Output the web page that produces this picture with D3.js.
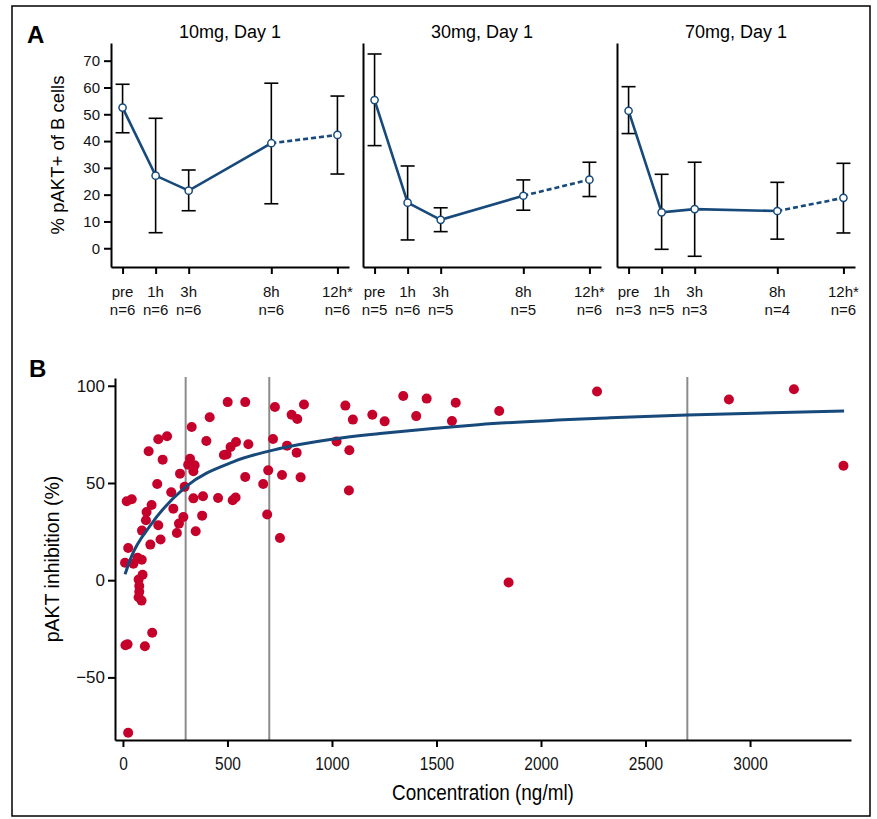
<!DOCTYPE html>
<html>
<head>
<meta charset="utf-8">
<script src="https://cdn.jsdelivr.net/npm/d3@7"></script>
<style>
  body { margin: 0; background: #fff; }
  svg { display: block; font-family: 'Liberation Sans', Arial, sans-serif; }
  .axis path, .axis line { stroke: #000; stroke-width: 2; }
  .axis text { fill: #111; font-family: 'Liberation Sans', Arial, sans-serif; }
</style>
</head>
<body>
<div class="chart"></div>
<script>
const svgWidth = 877;
const svgHeight = 819;

// panel A data
const doseTitles = ['10mg, Day 1', '30mg, Day 1', '70mg, Day 1'];
const timeLabels = ['pre', '1h', '3h', '8h', '12h*'];
const timeHours = [-1, 1, 3, 8, 12];
const nCounts = [
  [6, 6, 6, 6, 6],
  [5, 6, 5, 5, 6],
  [3, 5, 3, 4, 6]
];
const meanValues = [
  [52.5, 27.1, 21.5, 39.2, 42.3],
  [55.3, 17.0, 10.6, 19.6, 25.6],
  [51.3, 13.4, 14.6, 13.9, 18.8]
];
const upperValues = [
  [61.2, 48.5, 29.2, 61.6, 56.8],
  [72.5, 30.7, 15.1, 25.5, 32.1],
  [60.3, 27.6, 32.1, 24.6, 31.7]
];
const lowerValues = [
  [43.1, 5.8, 14.0, 16.6, 27.7],
  [38.3, 3.1, 6.2, 14.2, 19.3],
  [42.8, -0.4, -3.0, 3.4, 5.7]
];
const yTicksA = [0, 10, 20, 30, 40, 50, 60, 70];

// panel B data (concentration ng/ml, inhibition %)
const concentration = [
  2268, 2899, 3210, 3447, 1845,
  866, 807, 834, 1064, 1100, 1193, 1252, 1341, 1453, 1403, 1592, 1574, 1800,
  785, 831, 1022, 1083, 761, 850, 1081, 751,
  501, 585, 727, 415, 329, 399, 541, 515, 496, 483, 600, 718,
  321, 312, 343, 337, 273, 295, 695, 671, 585, 337, 383, 455, 525, 539,
  690, 379, 289, 348,
  169, 211, 123, 190, 164, 231, 18, 42, 137, 113, 110, 241, 169, 268, 91, 258,
  180, 131, 25,
  10, 50, 70, 90,
  94, 75, 78, 78, 75, 89,
  140, 12, 22, 105, 25
];
const inhibition = [
  97.1, 92.9, 98.2, 58.9, -1.2,
  90.4, 85.1, 82.9, 89.8, 82.6, 85.1, 81.7, 94.7, 93.4, 84.4, 91.3, 81.9, 87.0,
  69.2, 65.6, 71.4, 66.8, 54.1, 52.9, 46.1, 21.7,
  91.6, 91.6, 89.1, 83.8, 78.8, 71.6, 71.1, 68.5, 64.7, 64.4, 69.9, 72.6,
  62.5, 59.4, 59.1, 56.0, 54.8, 48.0, 56.5, 49.5, 53.1, 42.1, 43.2, 42.3, 41.1, 42.5,
  33.8, 33.2, 32.5, 25.2,
  72.5, 74.0, 66.3, 62.0, 49.5, 45.2, 40.6, 41.6, 38.7, 35.1, 30.8, 36.8, 28.3, 29.1, 25.5, 24.3,
  20.9, 18.3, 16.6,
  9.0, 8.5, 11.5, 10.5,
  2.8, 0.3, -3.0, -6.0, -8.8, -10.5,
  -27.0, -33.5, -33.0, -34.0, -78.5
];
const fitConc = [10, 40, 130, 300, 530, 750, 1000, 1230, 1700, 2330, 2700, 3450];
const fitInhib = [3, 12, 28, 48, 61, 67.7, 72.5, 75.4, 80, 83.5, 85, 87];
const refConc = [300, 700, 2700];
const xTicksB = [0, 500, 1000, 1500, 2000, 2500, 3000];
const yTicksB = [-50, 0, 50, 100];

const blue = '#17497a';
const red = '#c5002b';
// horizontal squeeze used for the condensed labels of panel B
const narrow = 0.86;

const svg = d3
  .select('.chart')
  .append('svg')
  .attr('width', svgWidth)
  .attr('height', svgHeight);

// outer frame
svg.append('rect')
  .attr('x', 12)
  .attr('y', 6)
  .attr('width', 858)
  .attr('height', 810)
  .attr('fill', 'none')
  .attr('stroke', '#000')
  .attr('stroke-width', 1.5);

// ---------- panel A ----------
svg.append('text')
  .attr('x', 27)
  .attr('y', 43)
  .attr('font-size', 24)
  .attr('font-weight', 'bold')
  .text('A');

const panelLeft = [111, 363, 617];
const panelWidth = 238;

const xA = d3.scaleLinear()
  .domain([-1.7, 12.7])
  .range([0, panelWidth]);

const yA = d3.scaleLinear()
  .domain([-7, 76.6])
  .range([267, 43]);

const line = d3.line()
  .x(d => xA(d[0]))
  .y(d => yA(d[1]));

doseTitles.forEach(function(title, i) {
  const g = svg.append('g')
    .attr('transform', `translate(${panelLeft[i]}, 0)`);

  g.append('text')
    .attr('x', panelWidth / 2)
    .attr('y', 38)
    .attr('text-anchor', 'middle')
    .attr('font-size', 18)
    .text(title);

  // y axis
  const yAxis = d3.axisLeft(yA).tickValues(i === 0 ? yTicksA : []).tickSize(7).tickSizeOuter(0);
  const yG = g.append('g').classed('axis', true).call(yAxis);
  yG.selectAll('text').style('font-size', '15px').attr('dx', '-1');

  // x axis
  const xAxis = d3.axisBottom(xA)
    .tickValues(timeHours)
    .tickSize(7)
    .tickSizeOuter(0)
    .tickFormat('');
  g.append('g')
    .classed('axis', true)
    .attr('transform', 'translate(0, 267)')
    .call(xAxis);

  // two-line tick labels
  const labels = g.append('g');
  timeHours.forEach(function(h, j) {
    const t = labels.append('text')
      .attr('x', xA(h))
      .attr('text-anchor', 'middle')
      .attr('font-size', 15)
      .attr('fill', '#111');
    t.append('tspan').attr('x', xA(h)).attr('y', 297).text(timeLabels[j]);
    t.append('tspan').attr('x', xA(h)).attr('y', 315).text('n=' + nCounts[i][j]);
  });

  // error bars
  const bars = g.append('g')
    .attr('stroke', '#000')
    .attr('stroke-width', 1.6);
  timeHours.forEach(function(h, j) {
    const x = xA(h);
    bars.append('line')
      .attr('x1', x).attr('x2', x)
      .attr('y1', yA(lowerValues[i][j])).attr('y2', yA(upperValues[i][j]));
    bars.append('line')
      .attr('x1', x - 7).attr('x2', x + 7)
      .attr('y1', yA(lowerValues[i][j])).attr('y2', yA(lowerValues[i][j]));
    bars.append('line')
      .attr('x1', x - 7).attr('x2', x + 7)
      .attr('y1', yA(upperValues[i][j])).attr('y2', yA(upperValues[i][j]));
  });

  const pts = timeHours.map((h, j) => [h, meanValues[i][j]]);

  g.append('path')
    .attr('d', line(pts.slice(0, 4)))
    .attr('fill', 'none')
    .attr('stroke', blue)
    .attr('stroke-width', 2.6);

  g.append('path')
    .attr('d', line(pts.slice(3)))
    .attr('fill', 'none')
    .attr('stroke', blue)
    .attr('stroke-width', 2.6)
    .attr('stroke-dasharray', '5,3');

  g.selectAll('circle')
    .data(pts)
    .enter()
    .append('circle')
    .attr('cx', d => xA(d[0]))
    .attr('cy', d => yA(d[1]))
    .attr('r', 3.6)
    .attr('fill', '#fff')
    .attr('stroke', blue)
    .attr('stroke-width', 1.5);
});

svg.append('text')
  .attr('transform', 'rotate(-90)')
  .attr('x', -155)
  .attr('y', 64)
  .attr('text-anchor', 'middle')
  .attr('font-size', 18.5)
  .text('% pAKT+ of B cells');

// ---------- panel B ----------
svg.append('text')
  .attr('x', 29)
  .attr('y', 377)
  .attr('font-size', 24)
  .attr('font-weight', 'bold')
  .text('B');

const xB = d3.scaleLinear()
  .domain([-38, 3483])
  .range([115, 851]);

const yB = d3.scaleLinear()
  .domain([-82.2, 104])
  .range([740, 378]);

// reference lines
svg.append('g')
  .selectAll('line')
  .data(refConc)
  .enter()
  .append('line')
  .attr('x1', d => xB(d))
  .attr('x2', d => xB(d))
  .attr('y1', 377)
  .attr('y2', 740)
  .attr('stroke', '#8c8c8c')
  .attr('stroke-width', 2);

// observations
svg.append('g')
  .selectAll('circle')
  .data(concentration)
  .enter()
  .append('circle')
  .attr('cx', d => xB(d))
  .attr('cy', (d, i) => yB(inhibition[i]))
  .attr('r', 5)
  .attr('fill', red);

// fitted curve
const fitLine = d3.line()
  .x(d => xB(d[0]))
  .y(d => yB(d[1]))
  .curve(d3.curveMonotoneX);

svg.append('path')
  .attr('d', fitLine(fitConc.map((c, i) => [c, fitInhib[i]])))
  .attr('fill', 'none')
  .attr('stroke', blue)
  .attr('stroke-width', 3);

const xAxisB = svg.append('g')
  .classed('axis', true)
  .attr('transform', 'translate(0, 740)')
  .call(d3.axisBottom(xB).tickValues(xTicksB).tickSize(7).tickSizeOuter(0).tickFormat(d3.format('d')));
xAxisB.selectAll('text')
  .style('font-size', '18px')
  .attr('y', 30)
  .attr('dy', null)
  .attr('transform', `scale(${narrow}, 1)`);

const yAxisB = svg.append('g')
  .classed('axis', true)
  .attr('transform', 'translate(115, 0)')
  .call(d3.axisLeft(yB).tickValues(yTicksB).tickSize(7).tickSizeOuter(0));
yAxisB.selectAll('text').style('font-size', '17px');

svg.append('g')
  .attr('transform', 'translate(483, 800)')
  .append('text')
  .attr('transform', `scale(${narrow}, 1)`)
  .attr('text-anchor', 'middle')
  .attr('font-size', 22)
  .text('Concentration (ng/ml)');

svg.append('text')
  .attr('transform', 'rotate(-90)')
  .attr('x', -559)
  .attr('y', 59)
  .attr('text-anchor', 'middle')
  .attr('font-size', 19.5)
  .text('pAKT inhibition (%)');
</script>
</body>
</html>
